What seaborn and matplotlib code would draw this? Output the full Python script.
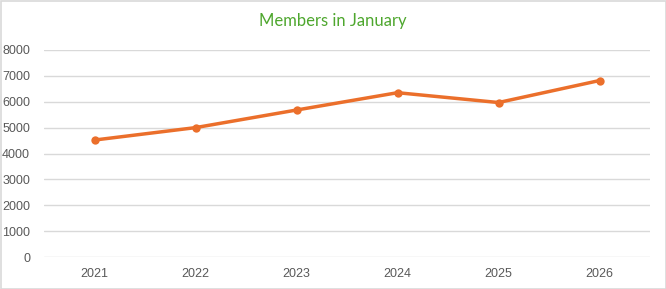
import matplotlib
matplotlib.use("Agg")
import matplotlib.pyplot as plt
import seaborn as sns
import pandas as pd
from matplotlib.patches import Rectangle

years = ["2021", "2022", "2023", "2024", "2025", "2026"]
members = [4520, 5000, 5680, 6350, 5970, 6820]
yticks = [0, 1000, 2000, 3000, 4000, 5000, 6000, 7000, 8000]

sns.set_style("white")
plt.rcParams['font.family'] = ['Liberation Sans', 'DejaVu Sans']

df = pd.DataFrame({"year": years, "members": members})

fig = plt.figure(figsize=(6.66, 2.89), dpi=100)
ax = fig.add_axes([44/666, 1-257/289, (650-44)/666, (257-50)/289])

sns.lineplot(data=df, x="year", y="members", ax=ax, color="#EB6F2B",
             linewidth=2.5, marker="o", markersize=6, markeredgewidth=0, sort=False)

ax.set_xlim(-0.5, len(years)-0.5)
ax.set_ylim(0, 8000)
ax.set_yticks(yticks)
ax.set_yticklabels([str(t) for t in yticks])
ax.yaxis.grid(True, color="#D9D9D9", linewidth=1)
ax.set_axisbelow(True)
for s in ax.spines.values():
    s.set_visible(False)
ax.tick_params(axis="both", length=0, labelsize=9, colors="#595959", pad=8)
ax.tick_params(axis="y", pad=10)
ax.set_xlabel("")
ax.set_ylabel("")

fig.text(0.5, 1-21/289, "Members in January", ha="center", va="center",
         fontsize=12, color="#4EA72E", family=["Lato", "DejaVu Sans"])

fig.patches.append(Rectangle((0.5/666, 0.5/289), 665/666, 288/289, transform=fig.transFigure,
                             fill=False, edgecolor="#D9D9D9", linewidth=1.2))

fig.savefig("out.png", dpi=100)
